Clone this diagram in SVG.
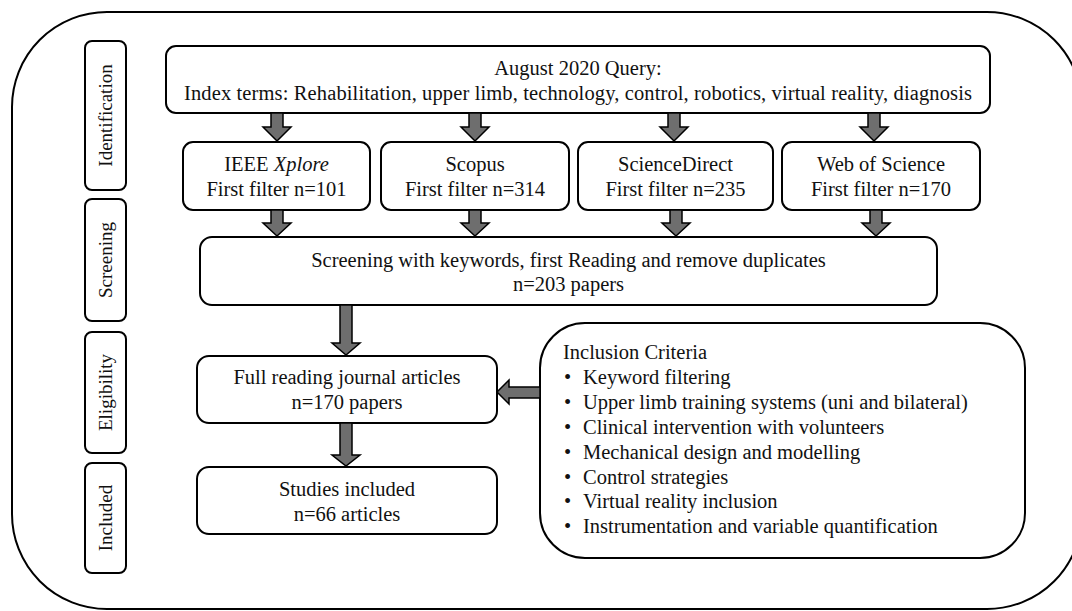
<svg xmlns="http://www.w3.org/2000/svg" width="1072" height="611" viewBox="0 0 1072 611">
<style>
.box{fill:#fff;stroke:#000;stroke-width:2}
.frame{fill:none;stroke:#000;stroke-width:2}
.t{font-family:"Liberation Serif","Times New Roman",serif;font-size:20.5px;fill:#111}
.c{text-anchor:middle}
.side{font-family:"Liberation Serif","Times New Roman",serif;font-size:19px;fill:#111;text-anchor:middle}
.arr{fill:#6e6e6e;stroke:#000;stroke-width:1.5;stroke-linejoin:miter}
</style>
<rect class="frame" x="12" y="12" width="1070" height="597" rx="95"/>
<g id="stage-identification"><rect class="box" x="85" y="41" width="41" height="149" rx="7"/><text class="side" transform="translate(112,115.5) rotate(-90)">Identification</text></g>
<g id="stage-screening"><rect class="box" x="85" y="199" width="41" height="122" rx="7"/><text class="side" transform="translate(112,260) rotate(-90)">Screening</text></g>
<g id="stage-eligibility"><rect class="box" x="85" y="332" width="41" height="121" rx="7"/><text class="side" transform="translate(112,392.5) rotate(-90)">Eligibility</text></g>
<g id="stage-included"><rect class="box" x="85" y="463" width="41" height="110" rx="7"/><text class="side" transform="translate(112,518) rotate(-90)">Included</text></g>
<g id="query"><rect class="box" x="166" y="46" width="824" height="67" rx="10"/><text class="t c" x="578" y="75">August 2020 Query:</text><text class="t c" x="578" y="100" textLength="788" lengthAdjust="spacing">Index terms: Rehabilitation, upper limb, technology, control, robotics, virtual reality, diagnosis</text></g>
<g id="ieee"><rect class="box" x="183" y="142" width="187" height="68" rx="10"/><text class="t c" x="276.5" y="171">IEEE <tspan font-style="italic">Xplore</tspan></text><text class="t c" x="276.5" y="196">First filter n=101</text></g>
<g id="scopus"><rect class="box" x="381" y="142" width="188" height="68" rx="10"/><text class="t c" x="475" y="171">Scopus</text><text class="t c" x="475" y="196">First filter n=314</text></g>
<g id="sciencedirect"><rect class="box" x="578" y="142" width="195" height="68" rx="10"/><text class="t c" x="675.5" y="171">ScienceDirect</text><text class="t c" x="675.5" y="196">First filter n=235</text></g>
<g id="wos"><rect class="box" x="782" y="142" width="198" height="68" rx="10"/><text class="t c" x="881" y="171">Web of Science</text><text class="t c" x="881" y="196">First filter n=170</text></g>
<g id="screening"><rect class="box" x="200" y="237" width="737" height="68" rx="12"/><text class="t c" x="568.5" y="267">Screening with keywords, first Reading and remove duplicates</text><text class="t c" x="568.5" y="291">n=203 papers</text></g>
<g id="fullreading"><rect class="box" x="197" y="356" width="300" height="67" rx="12"/><text class="t c" x="347" y="384">Full reading journal articles</text><text class="t c" x="347" y="409">n=170 papers</text></g>
<g id="included"><rect class="box" x="197" y="467" width="300" height="67" rx="12"/><text class="t c" x="347" y="496">Studies included</text><text class="t c" x="347" y="521">n=66 articles</text></g>
<g id="criteria"><rect class="box" x="540" y="323" width="485" height="235" rx="45"/>
<text class="t" x="563" y="359">Inclusion Criteria</text>
<text class="t" x="564" y="384">•</text><text class="t" x="583" y="384">Keyword filtering</text>
<text class="t" x="564" y="409">•</text><text class="t" x="583" y="409">Upper limb training systems (uni and bilateral)</text>
<text class="t" x="564" y="434">•</text><text class="t" x="583" y="434">Clinical intervention with volunteers</text>
<text class="t" x="564" y="459">•</text><text class="t" x="583" y="459">Mechanical design and modelling</text>
<text class="t" x="564" y="484">•</text><text class="t" x="583" y="484">Control strategies</text>
<text class="t" x="564" y="508">•</text><text class="t" x="583" y="508">Virtual reality inclusion</text>
<text class="t" x="564" y="533">•</text><text class="t" x="583" y="533">Instrumentation and variable quantification</text>
</g>
<g id="connectors">
<path class="arr" d="M271,113 H283 V127 H291 L277,141 L263,127 H271 Z"/>
<path class="arr" d="M469,113 H481 V127 H489 L475,141 L461,127 H469 Z"/>
<path class="arr" d="M668,113 H680 V127 H688 L674,141 L660,127 H668 Z"/>
<path class="arr" d="M868,113 H880 V127 H888 L874,141 L860,127 H868 Z"/>
<path class="arr" d="M271,210 H283 V223 H291 L277,236 L263,223 H271 Z"/>
<path class="arr" d="M469,210 H481 V223 H489 L475,236 L461,223 H469 Z"/>
<path class="arr" d="M670,210 H682 V223 H690 L676,236 L662,223 H670 Z"/>
<path class="arr" d="M870,210 H882 V223 H890 L876,236 L862,223 H870 Z"/>
<path class="arr" d="M340,305 H352 V343 H360 L346,355 L332,343 H340 Z"/>
<path class="arr" d="M340,423 H352 V455 H360 L346,466 L332,455 H340 Z"/>
<path class="arr" d="M540,387 H509 V380 L497,392 L509,404 V398 H540 Z"/>
</g>
</svg>
